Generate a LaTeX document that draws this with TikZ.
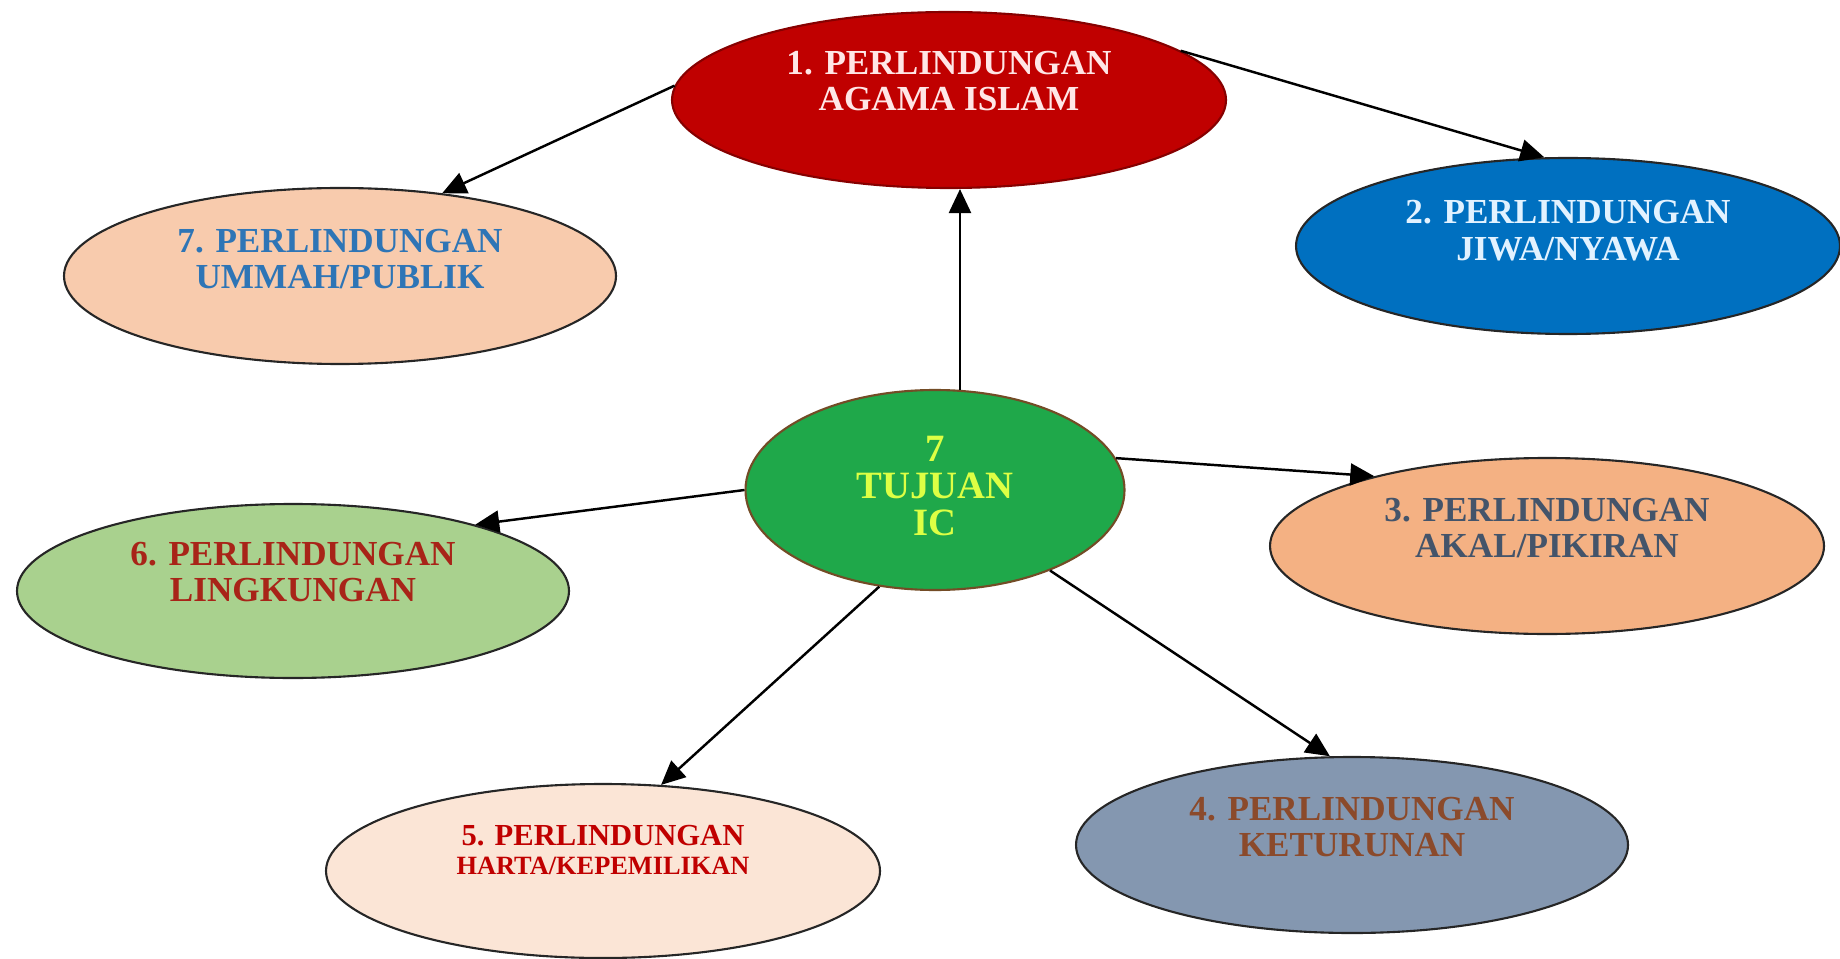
\documentclass[tikz,border=0pt]{standalone}
\usepackage{fontspec}
\setmainfont{Liberation Serif}
\usepackage{xcolor}
\usetikzlibrary{arrows.meta, shapes.geometric}

\definecolor{agamafill}{HTML}{C00000}
\definecolor{agamatext}{HTML}{FFE6E6}
\definecolor{jiwafill}{HTML}{0070C0}
\definecolor{jiwatext}{HTML}{E2F2FF}
\definecolor{akalfill}{HTML}{F4B183}
\definecolor{akaltext}{HTML}{44546A}
\definecolor{turunfill}{HTML}{8497B0}
\definecolor{turuntext}{HTML}{8B4A2B}
\definecolor{hartafill}{HTML}{FBE5D6}
\definecolor{hartatext}{HTML}{C00000}
\definecolor{lingkfill}{HTML}{A9D18E}
\definecolor{lingktext}{HTML}{A82418}
\definecolor{ummahfill}{HTML}{F8CBAD}
\definecolor{ummahtext}{HTML}{2E75B6}
\definecolor{tujuanfill}{HTML}{1FA84A}
\definecolor{tujuantext}{HTML}{DDFF44}

\begin{document}
\begin{tikzpicture}[
    goal/.style={ellipse, draw=black!85, line width=0.6pt, inner sep=0pt,
                 minimum width=5.52cm, minimum height=1.76cm},
    goaltext/.style={font=\bfseries\fontsize{10}{10.5}\selectfont, align=center},
    link/.style={-{Triangle[length=2.4mm,width=2.2mm]}, line width=0.7pt}]

  \useasboundingbox (0,0) rectangle (18.4,9.58);

  % centre
  \node[goal, fill=tujuanfill, draw=black!40!brown, minimum width=3.79cm,
        minimum height=2cm,
        label={[goaltext, text=tujuantext, font=\bfseries\fontsize{11}{10.5}\selectfont,
                yshift=0.4mm]center:{7\\TUJUAN\\IC}}] (c) at (9.35,4.68) {};

  % the seven goals
  \node[goal, fill=agamafill, draw=agamafill!70!black, minimum width=5.54cm,
        label={[goaltext, text=agamatext, yshift=1.9mm]center:{1. PERLINDUNGAN\\AGAMA ISLAM}}]
        (p1) at (9.49,8.58) {};
  \node[goal, fill=jiwafill, minimum width=5.44cm,
        label={[goaltext, text=jiwatext, yshift=1.5mm]center:{2. PERLINDUNGAN\\JIWA/NYAWA}}]
        (p2) at (15.68,7.12) {};
  \node[goal, fill=akalfill, minimum width=5.54cm,
        label={[goaltext, text=akaltext, yshift=1.8mm]center:{3. PERLINDUNGAN\\AKAL/PIKIRAN}}]
        (p3) at (15.47,4.12) {};
  \node[goal, fill=turunfill,
        label={[goaltext, text=turuntext, yshift=1.8mm]center:{4. PERLINDUNGAN\\KETURUNAN}}]
        (p4) at (13.52,1.13) {};
  \node[goal, fill=hartafill, minimum width=5.54cm, minimum height=1.74cm,
        label={[goaltext, text=hartatext, font=\bfseries\fontsize{8.7}{8.5}\selectfont,
                yshift=2.1mm]center:{5. PERLINDUNGAN\\{\fontsize{7.5}{8.5}\selectfont HARTA/KEPEMILIKAN}}}]
        (p5) at (6.03,0.87) {};
  \node[goal, fill=lingkfill, minimum height=1.74cm,
        label={[goaltext, text=lingktext, yshift=1.9mm]center:{6. PERLINDUNGAN\\LINGKUNGAN}}]
        (p6) at (2.93,3.67) {};
  \node[goal, fill=ummahfill,
        label={[goaltext, text=ummahtext, yshift=1.7mm]center:{7. PERLINDUNGAN\\UMMAH/PUBLIK}}]
        (p7) at (3.40,6.82) {};

  % arrows
  \draw[link] (c.76) -- (c.76 |- p1.south);
  \draw[link] (p1.12.5) -- (p2.105);
  \draw[link] (p1.177) -- (p7.39);
  \draw[link] (c.10) -- (p3.158);
  \draw[link] (c.-35) -- (p4.104);
  \draw[link] (c.240) -- (p5.56);
  \draw[link] (c.180) -- (p6.20);
\end{tikzpicture}
\end{document}
